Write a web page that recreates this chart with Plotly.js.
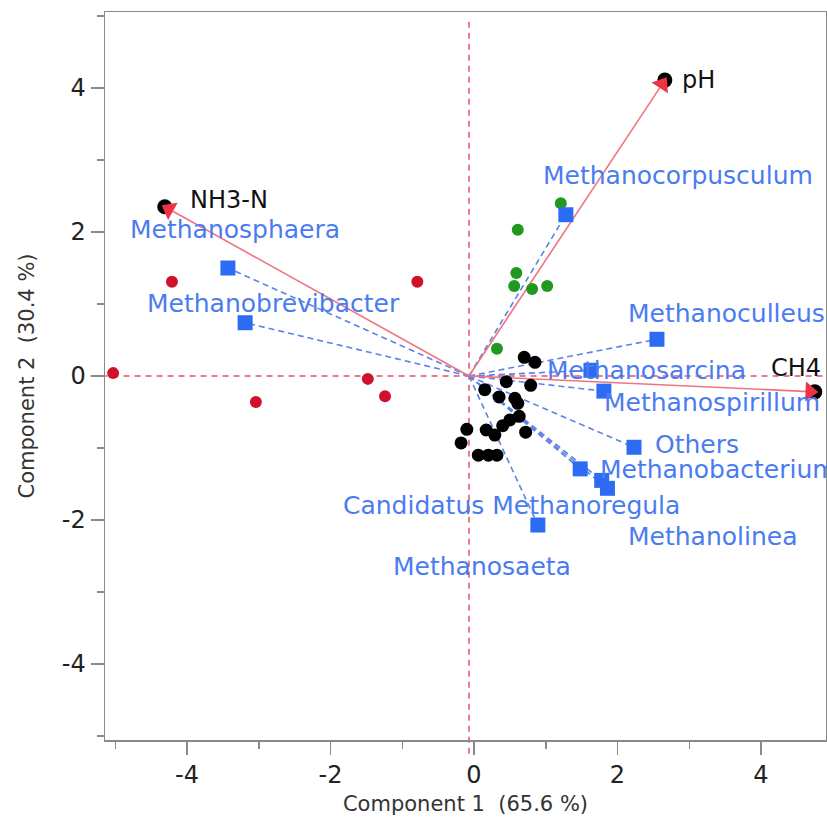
<!DOCTYPE html>
<html>
<head>
<meta charset="utf-8">
<script src="https://cdn.plot.ly/plotly-3.0.1.min.js"></script>
<style>
html,body{margin:0;padding:0;background:#fff;overflow:hidden;}
#chart{width:827px;height:817px;}
</style>
</head>
<body>
<div id="chart"></div>
<script>
// ---- data ----
const originX = -0.07;
const originY = 0;

const redX = [-4.21, -5.03, -3.04, -1.48, -1.24, -0.79];
const redY = [1.31, 0.04, -0.36, -0.04, -0.28, 1.31];

const greenX = [1.21, 0.61, 0.59, 0.56, 0.81, 1.02, 0.32];
const greenY = [2.40, 2.03, 1.43, 1.25, 1.21, 1.25, 0.38];

const blackX = [0.70, 0.85, 0.45, 0.79, 0.15, 0.35, 0.57, 0.61, 0.63, 0.50, 0.40, 0.72, -0.10, 0.17, 0.29, -0.18, 0.06, 0.20, 0.32];
const blackY = [0.26, 0.19, -0.08, -0.13, -0.19, -0.29, -0.31, -0.38, -0.56, -0.61, -0.69, -0.78, -0.74, -0.75, -0.82, -0.93, -1.10, -1.10, -1.10];

const varNames = ['pH', 'NH3-N', 'CH4'];
const varX = [2.66, -4.31, 4.75];
const varY = [4.11, 2.35, -0.22];

const speciesNames = ['Methanosphaera', 'Methanobrevibacter', 'Methanocorpusculum', 'Methanoculleus',
  'Methanosarcina', 'Methanospirillum', 'Others', 'Methanobacterium',
  'Candidatus Methanoregula', 'Methanolinea', 'Methanosaeta'];
const speciesX = [-3.43, -3.19, 1.28, 2.55, 1.63, 1.81, 2.23, 1.48, 1.78, 1.86, 0.89];
const speciesY = [1.50, 0.74, 2.24, 0.51, 0.08, -0.21, -0.99, -1.29, -1.45, -1.56, -2.07];

const xTicks = [-4, -2, 0, 2, 4];
const yTicks = [-4, -2, 0, 2, 4];
const xTitle = 'Component 1\u00a0 (65.6 %)';
const yTitle = 'Component 2\u00a0 (30.4 %)';

// ---- label placement (pixel offsets from the marker) ----
const speciesLabelShift = [[-98, 39], [-98, 19], [-23, 39], [-29, 26], [-44, 0], [0, -11],
  [21, 3], [20, -1], [-259, -25], [21, -48], [-145, -41]];
const varLabelShift = [[17, 0], [25, 7], [-44, 24]];
const headBack = 0.07; // arrow head sits slightly behind the tip (axis units)

const FONT = '"DejaVu Sans", "Liberation Sans", Arial, sans-serif';
const BLUE_LINE = '#5b82e6';
const BLUE_MARK = '#2c6cf4';
const BLUE_TEXT = '#4a7cf0';

const traces = [];

// blue dashed loading lines
const bx = [], by = [];
speciesX.forEach((x, i) => { bx.push(originX, x, null); by.push(originY, speciesY[i], null); });
traces.push({x: bx, y: by, mode: 'lines', type: 'scatter', hoverinfo: 'skip',
  line: {color: BLUE_LINE, width: 1.6, dash: '6px,4px'}});

// red variable arrows
varX.forEach((x, i) => {
  traces.push({x: [originX, x], y: [originY, varY[i]], mode: 'lines', type: 'scatter', hoverinfo: 'skip',
    line: {color: '#f07480', width: 1.6}});
});

// sample points
traces.push({x: redX, y: redY, mode: 'markers', type: 'scatter', marker: {color: '#d0112b', size: 12}});
traces.push({x: greenX, y: greenY, mode: 'markers', type: 'scatter', marker: {color: '#1f9a1f', size: 12}});
traces.push({x: blackX, y: blackY, mode: 'markers', type: 'scatter', marker: {color: '#000000', size: 13}});

// species squares
traces.push({x: speciesX, y: speciesY, mode: 'markers', type: 'scatter',
  marker: {color: BLUE_MARK, size: 15, symbol: 'square'}});

// variable tip circles
traces.push({x: varX, y: varY, mode: 'markers', type: 'scatter', marker: {color: '#000', size: 15}});

// arrow heads
const headX = [], headY = [], headAng = [];
varX.forEach((x, i) => {
  const dx = x - originX, dy = varY[i] - originY;
  const len = Math.sqrt(dx * dx + dy * dy);
  headX.push(x - headBack * dx / len);
  headY.push(varY[i] - headBack * dy / len);
  headAng.push(Math.atan2(dx, dy) * 180 / Math.PI);
});
traces.push({x: headX, y: headY, mode: 'markers', type: 'scatter', hoverinfo: 'skip',
  marker: {color: '#ee3344', size: 17, symbol: 'triangle-up', angle: headAng}});

const annotations = [];
speciesNames.forEach((n, i) => {
  annotations.push({x: speciesX[i], y: speciesY[i], text: n, showarrow: false,
    xanchor: 'left', yanchor: 'middle', xshift: speciesLabelShift[i][0], yshift: speciesLabelShift[i][1],
    font: {family: FONT, size: 25, color: BLUE_TEXT}, borderpad: 0, borderwidth: 0});
});
varNames.forEach((n, i) => {
  annotations.push({x: varX[i], y: varY[i], text: n, showarrow: false,
    xanchor: 'left', yanchor: 'middle', xshift: varLabelShift[i][0], yshift: varLabelShift[i][1],
    font: {family: FONT, size: 24, color: '#111'}, borderpad: 0, borderwidth: 0});
});

const shapes = [
  {type: 'line', xref: 'paper', yref: 'y', x0: -0.02, x1: 1, y0: 0, y1: 0,
   line: {color: '#e8506a', width: 1.5, dash: '6px,5px'}, layer: 'below'},
  {type: 'line', xref: 'x', yref: 'paper', x0: originX, x1: originX, y0: -0.019, y1: 0.99,
   line: {color: '#e8506a', width: 1.5, dash: '6px,5px'}, layer: 'below'}
];

const axisCommon = {
  showgrid: false, zeroline: false, showline: true, linecolor: '#8a8a8a', linewidth: 1.5,
  ticks: 'outside', ticklen: 13, tickwidth: 1.5, tickcolor: '#8a8a8a',
  tickfont: {family: FONT, size: 24, color: '#222'},
  minor: {dtick: 1, ticks: 'outside', ticklen: 7, tickwidth: 1.5, tickcolor: '#8a8a8a', showgrid: false},
  mirror: true, fixedrange: true
};

const layout = {
  width: 827, height: 817,
  margin: {l: 105, r: 1, t: 12, b: 77, pad: 0},
  paper_bgcolor: '#fff', plot_bgcolor: '#fff',
  showlegend: false,
  font: {family: FONT},
  xaxis: Object.assign({}, axisCommon, {
    range: [-5.143, 4.906], tickmode: 'array', tickvals: xTicks, ticktext: xTicks.map(String),
    minor: Object.assign({}, axisCommon.minor, {tickmode: 'array', tickvals: [-5, -3, -1, 1, 3]}),
    title: {text: xTitle, font: {family: FONT, size: 21, color: '#333'}, standoff: 8}
  }),
  yaxis: Object.assign({}, axisCommon, {
    range: [-5.056, 5.056], tickmode: 'array', tickvals: yTicks, ticktext: yTicks.map(String),
    minor: Object.assign({}, axisCommon.minor, {tickmode: 'array', tickvals: [-5, -3, -1, 1, 3, 5]}),
    title: {text: yTitle, font: {family: FONT, size: 21, color: '#333'}, standoff: 21}
  }),
  shapes: shapes,
  annotations: annotations
};

Plotly.newPlot('chart', traces, layout, {displayModeBar: false, staticPlot: true});
</script>
</body>
</html>
